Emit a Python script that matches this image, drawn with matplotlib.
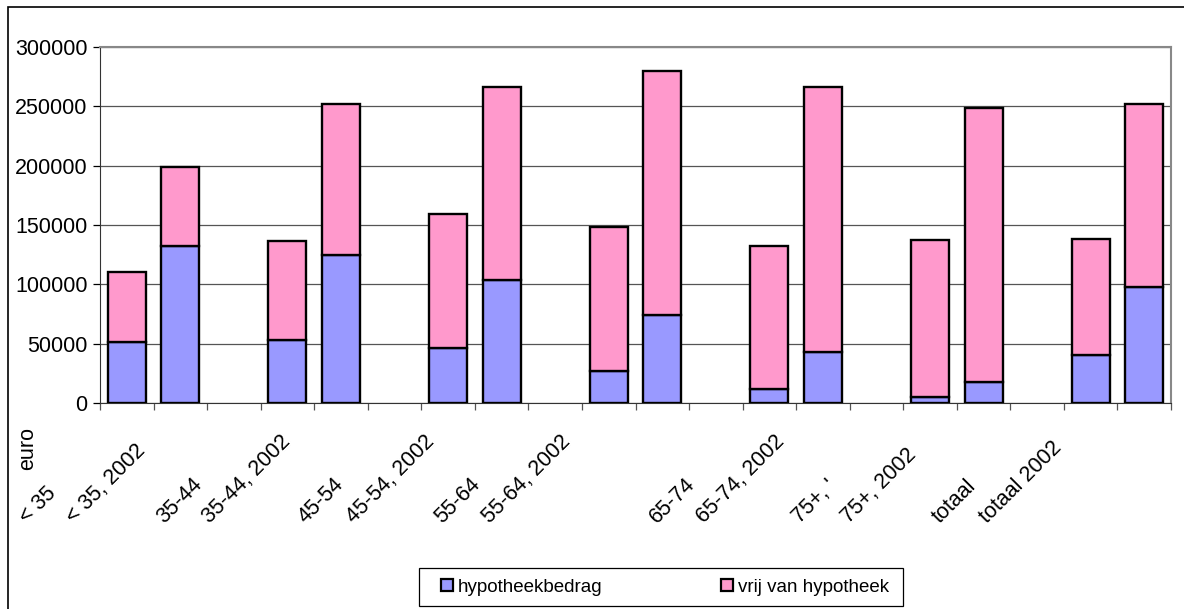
import numpy as np
import matplotlib
matplotlib.use("Agg")
import matplotlib.pyplot as plt
from matplotlib.patches import Rectangle

plt.rcParams['font.family'] = ['Liberation Sans', 'DejaVu Sans']

# categorieen (lege plekken tussen de groepen)
categories = ['< 35', '< 35, 2002', '',
              '35-44', '35-44, 2002', '',
              '45-54', '45-54, 2002', '',
              '55-64', '55-64, 2002', '',
              '65-74', '65-74, 2002', '',
              "75+, '", '75+, 2002', '',
              'totaal', 'totaal 2002']

# hypotheekbedrag en totale waarde woning (euro)
hypotheek = [51500, 132000, 0, 53500, 124500, 0, 46000, 103500, 0,
             27000, 74000, 0, 11500, 42700, 0, 4800, 17400, 0, 40700, 98000]
totaal = [110800, 199000, 0, 136800, 251700, 0, 159200, 266500, 0,
          148500, 279700, 0, 132000, 266000, 0, 137300, 248800, 0, 138300, 251600]
vrij = [t - h for t, h in zip(totaal, hypotheek)]

# verschuiving van de schuine labels (pixels, zoals in excel)
label_shift = [-100, -106, 0, -123, -131, 0, -143, -148, 0, -167, -172, 0,
               -113, -119, 0, -130, -135, 0, -151, -157]

W, H = 1184, 609
fig = plt.figure(figsize=(W / 100, H / 100), dpi=100)
ax = fig.add_axes([100 / W, (H - 403) / H, 1071 / W, 356 / H])

x = np.arange(len(categories)) + 0.5
mask = [c != '' for c in categories]
xb = x[mask]
hb = np.array(hypotheek)[mask]
vb = np.array(vrij)[mask]

ax.bar(xb, hb, width=0.71, color='#9999FF', edgecolor='black', linewidth=1.7,
       label='hypotheekbedrag', zorder=3)
ax.bar(xb, vb, width=0.71, bottom=hb, color='#FF99CC', edgecolor='black',
       linewidth=1.7, label='vrij van hypotheek', zorder=3)

ax.set_xlim(0, len(categories))
ax.set_ylim(0, 300000)
ax.set_yticks(np.arange(0, 300001, 50000))
ax.yaxis.grid(True, color='#555555', linewidth=0.9, zorder=0)
ax.set_xticks(np.arange(0, len(categories) + 1))
ax.set_xticklabels([])
ax.tick_params(axis='y', labelsize=15.5, length=5, width=0.9, pad=4, direction='out')
ax.tick_params(axis='x', length=5, width=0.9, direction='out', color='#555555')

for s in ['top', 'right']:
    ax.spines[s].set_color('#888888')
    ax.spines[s].set_linewidth(1.5)
ax.spines['left'].set_color('#333333')
ax.spines['bottom'].set_color('#333333')

# schuine categorie-labels
for xi, lab, sh in zip(x, categories, label_shift):
    if lab == '':
        continue
    ax.annotate(lab, xy=(xi, 0), xycoords=('data', 'axes fraction'),
                xytext=(sh * 0.72, -121 * 0.72), textcoords='offset points',
                rotation=45, rotation_mode='anchor', ha='left', va='baseline',
                fontsize=15.5, annotation_clip=False)

fig.text(28 / W, (H - 448) / H, 'euro', rotation=90, fontsize=15.5,
         ha='center', va='center')

leg = fig.legend(loc='center', bbox_to_anchor=(665 / W, (H - 587) / H), ncol=2,
                 fontsize=13.5, frameon=False,
                 handlelength=0.65, handleheight=0.65, handletextpad=0.25,
                 columnspacing=6.3, borderpad=0.45)
for hnd in leg.legend_handles:
    hnd.set_linewidth(1.6)

# legendakader
fig.patches.append(Rectangle((419 / W, (H - 606) / H), 484 / W, 38 / H,
                             transform=fig.transFigure, fill=False,
                             edgecolor='black', linewidth=0.9))

# buitenkader van de grafiek
fig.patches.append(Rectangle((8 / W, -0.1), 1.2, (H - 7) / H + 0.1,
                             transform=fig.transFigure, fill=False,
                             edgecolor='black', linewidth=1.2))

fig.savefig('out.png', dpi=100)
